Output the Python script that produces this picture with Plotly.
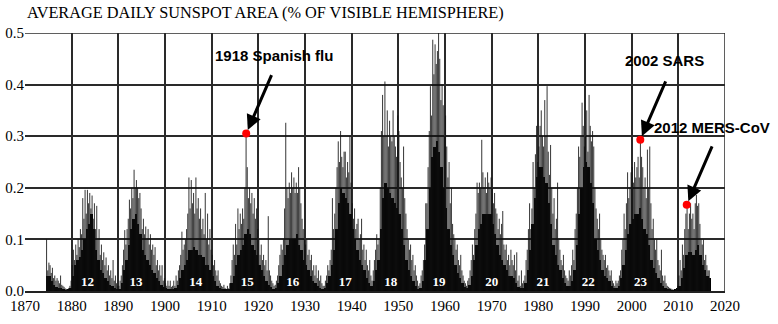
import plotly.graph_objects as go

# ---------------- data ----------------
# quarterly maxima (spikes), one list per decade; 1870s list starts at 1874.5
peaks_1870s = [0.10, 0.04,
               0.055, 0.05, 0.035, 0.045, 0.025, 0.03, 0.02, 0.025,
               0.02, 0.015, 0.03, 0.012, 0.01, 0.008, 0.005, 0.004,
               0.003, 0.006, 0.01, 0.02]
peaks_1880s = [0.05, 0.08, 0.06, 0.09, 0.07, 0.10, 0.085, 0.12,
               0.11, 0.18, 0.14, 0.196, 0.15, 0.196, 0.17, 0.19,
               0.16, 0.185, 0.14, 0.17, 0.12, 0.165, 0.10, 0.12,
               0.07, 0.09, 0.06, 0.075, 0.05, 0.065, 0.04, 0.05,
               0.03, 0.04, 0.025, 0.06, 0.02, 0.03, 0.015, 0.01]
peaks_1890s = [0.01, 0.02, 0.03, 0.05, 0.08, 0.118, 0.09, 0.12,
               0.14, 0.177, 0.16, 0.20, 0.18, 0.235, 0.20, 0.215,
               0.20, 0.18, 0.19, 0.16, 0.12, 0.14, 0.11, 0.125,
               0.10, 0.12, 0.09, 0.11, 0.08, 0.09, 0.07, 0.085,
               0.05, 0.06, 0.04, 0.05, 0.03, 0.05, 0.02, 0.025]
peaks_1900s = [0.015, 0.01, 0.02, 0.01, 0.02, 0.008, 0.01, 0.02,
               0.01, 0.03, 0.02, 0.04, 0.05, 0.07, 0.115, 0.08,
               0.09, 0.10, 0.12, 0.15, 0.22, 0.16, 0.215, 0.17,
               0.19, 0.15, 0.22, 0.16, 0.18, 0.14, 0.16, 0.12,
               0.14, 0.11, 0.19, 0.10, 0.15, 0.09, 0.12, 0.08]
peaks_1910s = [0.07, 0.05, 0.06, 0.04, 0.03, 0.04, 0.02, 0.015,
               0.01, 0.008, 0.012, 0.006, 0.004, 0.01, 0.005, 0.015,
               0.03, 0.06, 0.09, 0.07, 0.13, 0.09, 0.16, 0.12,
               0.15, 0.13, 0.16, 0.14, 0.20, 0.305, 0.24, 0.18,
               0.20, 0.17, 0.19, 0.15, 0.18, 0.14, 0.16, 0.12]
peaks_1920s = [0.10, 0.07, 0.09, 0.06, 0.07, 0.05, 0.06, 0.04,
               0.145, 0.04, 0.03, 0.02, 0.015, 0.01, 0.012, 0.02,
               0.03, 0.05, 0.07, 0.09, 0.08, 0.10, 0.16, 0.326,
               0.20, 0.18, 0.21, 0.19, 0.23, 0.20, 0.22, 0.19,
               0.21, 0.19, 0.24, 0.20, 0.17, 0.14, 0.12, 0.10]
peaks_1930s = [0.09, 0.10, 0.07, 0.08, 0.06, 0.07, 0.04, 0.05,
               0.03, 0.05, 0.025, 0.04, 0.02, 0.03, 0.015, 0.01,
               0.01, 0.02, 0.03, 0.05, 0.04, 0.06, 0.08, 0.18,
               0.12, 0.15, 0.20, 0.24, 0.29, 0.25, 0.31, 0.26,
               0.24, 0.27, 0.27, 0.22, 0.25, 0.23, 0.30, 0.21]
peaks_1940s = [0.17, 0.14, 0.16, 0.12, 0.13, 0.14, 0.10, 0.11,
               0.14, 0.08, 0.09, 0.06, 0.08, 0.05, 0.04, 0.06,
               0.03, 0.02, 0.04, 0.06, 0.08, 0.11, 0.09, 0.10,
               0.20, 0.31, 0.38, 0.30, 0.406, 0.30, 0.35, 0.28,
               0.33, 0.30, 0.29, 0.35, 0.30, 0.28, 0.26, 0.34]
peaks_1950s = [0.31, 0.25, 0.22, 0.20, 0.28, 0.18, 0.15, 0.12,
               0.10, 0.08, 0.09, 0.06, 0.07, 0.04, 0.05, 0.03,
               0.02, 0.01, 0.015, 0.03, 0.04, 0.06, 0.09, 0.17,
               0.17, 0.24, 0.31, 0.397, 0.34, 0.487, 0.42, 0.478,
               0.44, 0.465, 0.513, 0.45, 0.37, 0.40, 0.36, 0.30]
peaks_1960s = [0.34, 0.28, 0.22, 0.25, 0.17, 0.20, 0.13, 0.11,
               0.10, 0.08, 0.09, 0.06, 0.05, 0.07, 0.04, 0.03,
               0.02, 0.015, 0.01, 0.02, 0.025, 0.04, 0.06, 0.09,
               0.07, 0.12, 0.15, 0.21, 0.19, 0.21, 0.20, 0.293,
               0.23, 0.20, 0.22, 0.19, 0.23, 0.21, 0.20, 0.22]
peaks_1970s = [0.20, 0.17, 0.19, 0.16, 0.15, 0.12, 0.14, 0.11,
               0.13, 0.155, 0.09, 0.08, 0.09, 0.06, 0.07, 0.05,
               0.08, 0.06, 0.05, 0.07, 0.04, 0.075, 0.02, 0.03,
               0.01, 0.04, 0.015, 0.02, 0.03, 0.06, 0.08, 0.12,
               0.17, 0.12, 0.16, 0.25, 0.20, 0.265, 0.32, 0.25]
peaks_1980s = [0.28, 0.32, 0.35, 0.30, 0.28, 0.37, 0.30, 0.397,
               0.27, 0.225, 0.283, 0.20, 0.15, 0.18, 0.12, 0.14,
               0.21, 0.10, 0.08, 0.06, 0.05, 0.07, 0.04, 0.03,
               0.025, 0.02, 0.04, 0.03, 0.05, 0.08, 0.06, 0.12,
               0.15, 0.20, 0.28, 0.26, 0.30, 0.365, 0.32, 0.28]
peaks_1990s = [0.30, 0.35, 0.27, 0.38, 0.32, 0.29, 0.31, 0.28,
               0.20, 0.16, 0.14, 0.12, 0.15, 0.10, 0.08, 0.07,
               0.06, 0.07, 0.045, 0.05, 0.04, 0.03, 0.04, 0.02,
               0.015, 0.01, 0.02, 0.015, 0.02, 0.03, 0.04, 0.08,
               0.10, 0.15, 0.12, 0.17, 0.23, 0.18, 0.20, 0.23]
peaks_2000s = [0.24, 0.21, 0.25, 0.22, 0.24, 0.26, 0.22, 0.293,
               0.26, 0.24, 0.20, 0.22, 0.18, 0.274, 0.20, 0.28,
               0.17, 0.12, 0.14, 0.10, 0.08, 0.10, 0.06, 0.05,
               0.04, 0.08, 0.03, 0.02, 0.03, 0.015, 0.01, 0.008,
               0.006, 0.005, 0.004, 0.003, 0.002, 0.003, 0.005, 0.01]
peaks_2010s = [0.03, 0.06, 0.04, 0.09, 0.07, 0.12, 0.15, 0.167,
               0.12, 0.15, 0.17, 0.14, 0.15, 0.12, 0.17, 0.186,
               0.165, 0.17, 0.13, 0.10, 0.09, 0.10, 0.06, 0.07,
               0.05, 0.04, 0.04]

# half-yearly dense core, one list per decade; 1870s list starts at 1874.5
core_1870s = [0.03, 0.03, 0.02, 0.012, 0.008, 0.006, 0.005, 0.002, 0.001, 0.002, 0.006]
core_1880s = [0.03, 0.05, 0.06, 0.065, 0.08, 0.10, 0.12, 0.13, 0.15, 0.12,
              0.08, 0.06, 0.04, 0.035, 0.025, 0.02, 0.012, 0.01, 0.006, 0.004]
core_1890s = [0.004, 0.015, 0.04, 0.06, 0.09, 0.12, 0.14, 0.15, 0.13, 0.11,
              0.08, 0.07, 0.06, 0.05, 0.04, 0.035, 0.025, 0.02, 0.012, 0.008]
core_1900s = [0.005, 0.004, 0.003, 0.003, 0.006, 0.012, 0.025, 0.04, 0.05, 0.06,
              0.08, 0.08, 0.085, 0.08, 0.07, 0.07, 0.065, 0.05, 0.05, 0.04]
core_1910s = [0.03, 0.02, 0.01, 0.006, 0.003, 0.003, 0.002, 0.004, 0.015, 0.03,
              0.05, 0.07, 0.08, 0.09, 0.11, 0.12, 0.11, 0.09, 0.08, 0.07]
core_1920s = [0.05, 0.04, 0.03, 0.02, 0.012, 0.008, 0.004, 0.005, 0.015, 0.03,
              0.05, 0.07, 0.09, 0.10, 0.10, 0.10, 0.11, 0.09, 0.08, 0.06]
core_1930s = [0.05, 0.04, 0.03, 0.02, 0.015, 0.01, 0.006, 0.004, 0.006, 0.015,
              0.03, 0.05, 0.08, 0.12, 0.17, 0.20, 0.19, 0.18, 0.17, 0.15]
core_1940s = [0.12, 0.10, 0.08, 0.06, 0.05, 0.04, 0.025, 0.015, 0.01, 0.02,
              0.04, 0.06, 0.12, 0.18, 0.21, 0.20, 0.19, 0.18, 0.17, 0.16]
core_1950s = [0.15, 0.12, 0.09, 0.06, 0.04, 0.03, 0.02, 0.01, 0.004, 0.006,
              0.02, 0.06, 0.12, 0.20, 0.26, 0.28, 0.29, 0.27, 0.24, 0.20]
core_1960s = [0.16, 0.12, 0.09, 0.07, 0.05, 0.035, 0.025, 0.015, 0.008, 0.006,
              0.012, 0.03, 0.06, 0.09, 0.12, 0.13, 0.15, 0.15, 0.15, 0.15]
core_1970s = [0.13, 0.11, 0.09, 0.07, 0.06, 0.05, 0.04, 0.03, 0.03, 0.025,
              0.015, 0.008, 0.005, 0.006, 0.015, 0.04, 0.08, 0.13, 0.18, 0.22]
core_1980s = [0.24, 0.24, 0.22, 0.21, 0.17, 0.13, 0.09, 0.07, 0.05, 0.04,
              0.025, 0.015, 0.01, 0.01, 0.02, 0.04, 0.09, 0.15, 0.20, 0.24]
core_1990s = [0.25, 0.24, 0.21, 0.17, 0.10, 0.08, 0.06, 0.04, 0.03, 0.025,
              0.02, 0.01, 0.006, 0.005, 0.01, 0.025, 0.05, 0.08, 0.11, 0.13]
core_2000s = [0.14, 0.15, 0.15, 0.16, 0.14, 0.12, 0.11, 0.09, 0.06, 0.045,
              0.035, 0.025, 0.015, 0.01, 0.006, 0.004, 0.002, 0.001, 0.002, 0.005]
core_2010s = [0.01, 0.025, 0.045, 0.07, 0.075, 0.075, 0.07, 0.08, 0.09, 0.07,
              0.05, 0.04, 0.03, 0.025]

decade_starts = [1874.5, 1880, 1890, 1900, 1910, 1920, 1930, 1940,
                 1950, 1960, 1970, 1980, 1990, 2000, 2010]
peak_lists = [peaks_1870s, peaks_1880s, peaks_1890s, peaks_1900s, peaks_1910s,
              peaks_1920s, peaks_1930s, peaks_1940s, peaks_1950s, peaks_1960s,
              peaks_1970s, peaks_1980s, peaks_1990s, peaks_2000s, peaks_2010s]
core_lists = [core_1870s, core_1880s, core_1890s, core_1900s, core_1910s,
              core_1920s, core_1930s, core_1940s, core_1950s, core_1960s,
              core_1970s, core_1980s, core_1990s, core_2000s, core_2010s]

cycle_numbers = [12, 13, 14, 15, 16, 17, 18, 19, 20, 21, 22, 23]
cycle_years = [1883.4, 1893.8, 1906.6, 1917.6, 1927.4, 1938.6,
               1948.4, 1958.7, 1970.0, 1981.0, 1990.7, 2001.9]

event_years = [1917.4, 2001.85, 2011.8]
event_values = [0.305, 0.293, 0.167]
event_labels = ["1918 Spanish flu", "2002 SARS", "2012 MERS-CoV"]
label_years = [1923.35, 2007.1, 2017.2]
label_values = [0.456, 0.446, 0.316]

x_ticks = list(range(1870, 2021, 10))
y_ticks = [0.0, 0.1, 0.2, 0.3, 0.4, 0.5]

SERIF = "Liberation Serif, Times New Roman, serif"
SANS = "Liberation Sans, Arial, sans-serif"

# ---------------- build series ----------------
spike_x, spike_y = [], []
for start, vals in zip(decade_starts, peak_lists):
    for i, v in enumerate(vals):
        t = start + 0.125 + 0.25 * i
        spike_x += [t, t, None]
        spike_y += [0, v, None]

core_x, core_y = [], []
for start, vals in zip(decade_starts, core_lists):
    for i, v in enumerate(vals):
        core_x.append(start + 0.25 + 0.5 * i)
        core_y.append(v)

fig = go.Figure()
fig.add_trace(go.Scatter(x=spike_x, y=spike_y, mode="lines",
                         line=dict(color="#111111", width=0.85),
                         hoverinfo="skip", showlegend=False))
fig.add_trace(go.Bar(x=core_x, y=core_y, width=0.5,
                     marker=dict(color="black", line=dict(width=0)),
                     showlegend=False))
fig.add_trace(go.Scatter(x=cycle_years, y=[0.0155] * len(cycle_years),
                         mode="text", text=[str(n) for n in cycle_numbers],
                         textfont=dict(family=SERIF, size=13,
                                       color="white", weight="bold"),
                         showlegend=False, hoverinfo="skip"))
fig.add_trace(go.Scatter(x=event_years, y=event_values, mode="markers",
                         marker=dict(color="#ff0000", size=8),
                         showlegend=False, cliponaxis=False))

annotations = []
for lx, ly, txt in zip(label_years, label_values, event_labels):
    annotations.append(dict(x=lx, y=ly, xref="x", yref="y", text=txt,
                            showarrow=False,
                            font=dict(family=SANS, size=15,
                                      color="black", weight="bold"),
                            xanchor="center", yanchor="middle"))
for ex, ev in zip(event_years, event_values):
    annotations.append(dict(x=ex, y=ev, xref="x", yref="y", text="",
                            showarrow=True, ax=26, ay=-60,
                            arrowhead=2, arrowsize=1, arrowwidth=3,
                            arrowcolor="black", standoff=4))

grid_style = dict(showgrid=True, gridcolor="#2a2a2a", gridwidth=1.5,
                  zeroline=False, ticks="", automargin=False,
                  tickfont=dict(family=SERIF, size=15, color="black"))

border = dict(color="#2a2a2a", width=1.5)
shapes = [
    dict(type="line", xref="paper", yref="y", x0=0, x1=1, y0=0.5, y1=0.5,
         line=border, layer="below"),
    dict(type="line", xref="x", yref="paper", x0=2020, x1=2020, y0=0, y1=1,
         line=border, layer="below"),
]

fig.update_layout(
    width=778, height=324,
    margin=dict(l=25, r=53, t=33, b=33, autoexpand=False),
    paper_bgcolor="white", plot_bgcolor="white",
    font=dict(family=SERIF, color="black"),
    bargap=0,
    title=dict(text="AVERAGE DAILY SUNSPOT AREA (% OF VISIBLE HEMISPHERE)",
               font=dict(family=SERIF, size=16.3, color="black"),
               xref="container", x=27 / 778, xanchor="left",
               yref="container", y=1 - 12.5 / 324, yanchor="middle"),
    xaxis=dict(range=[1870, 2020], tickvals=x_ticks,
               showline=True, linecolor="#222222", linewidth=2, **grid_style),
    yaxis=dict(range=[0, 0.5], tickvals=y_ticks,
               ticktext=["%.1f" % v for v in y_ticks], **grid_style),
    annotations=annotations,
    shapes=shapes,
)

fig.write_html("out.html",
               config={"displayModeBar": False},
               post_script="document.body.style.margin='0px';"
                           "document.body.style.overflow='hidden';")
